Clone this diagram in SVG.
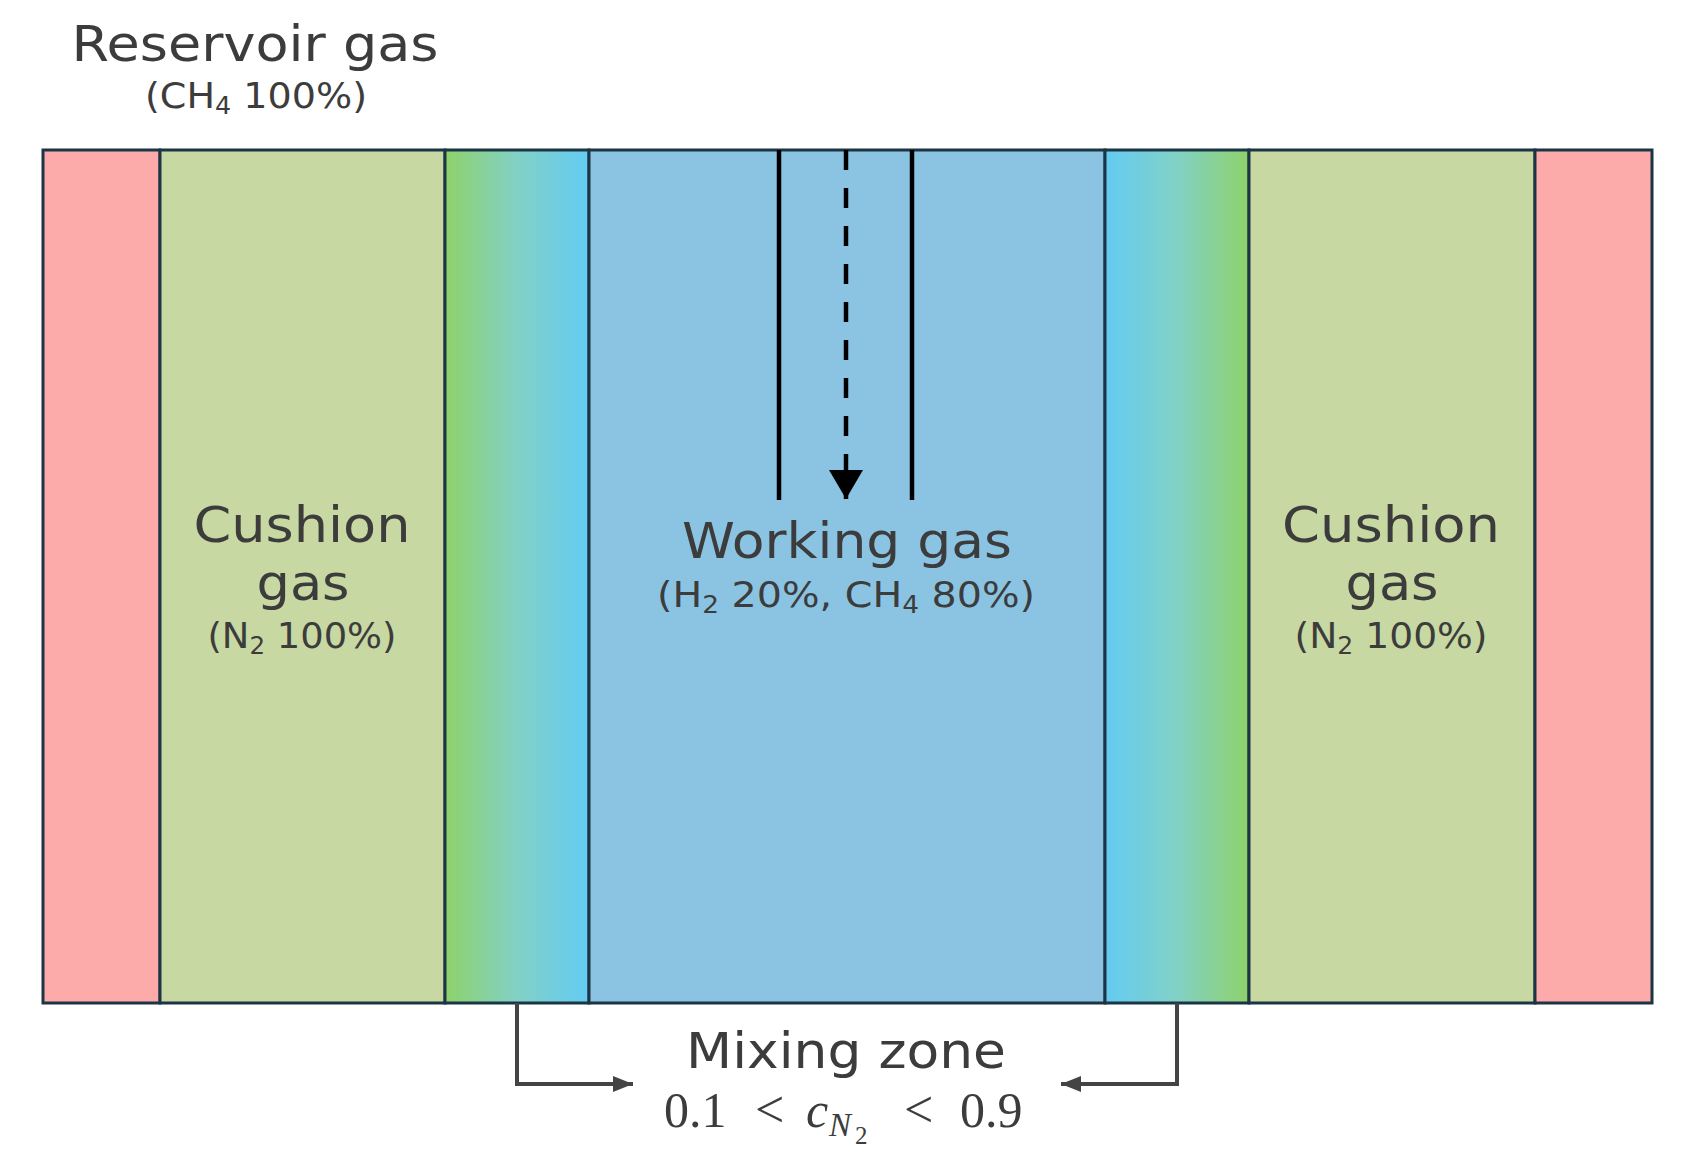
<svg xmlns="http://www.w3.org/2000/svg" width="1695" height="1171" viewBox="0 0 1695 1171">
<defs>
  <linearGradient id="mixL" x1="0" y1="0" x2="1" y2="0">
    <stop offset="0" stop-color="#8ed26a"/>
    <stop offset="0.5" stop-color="#82d1c6"/>
    <stop offset="1" stop-color="#63cbf3"/>
  </linearGradient>
  <linearGradient id="mixR" x1="0" y1="0" x2="1" y2="0">
    <stop offset="0" stop-color="#63cbf3"/>
    <stop offset="0.5" stop-color="#82d1c6"/>
    <stop offset="1" stop-color="#8ed26a"/>
  </linearGradient>
  <marker id="bracketHead" markerUnits="userSpaceOnUse" markerWidth="22" markerHeight="18" refX="20" refY="9" orient="auto">
    <path d="M0,1 L20,9 L0,17 Z" fill="#444444"/>
  </marker>
  <marker id="pipeHead" markerUnits="userSpaceOnUse" markerWidth="30" markerHeight="36" refX="29" refY="18" orient="auto">
    <path d="M0,1 L29,18 L0,35 Z" fill="#000000"/>
  </marker>
</defs>
<style>
  .zone{stroke:#1c3545;stroke-width:3}
  .lbl{font-family:"DejaVu Sans","Liberation Sans",sans-serif;fill:#3c3c3c;text-anchor:middle}
  .big{font-size:50px}
  .small{font-size:36px}
  .sub{font-size:24px}
  .bracket{fill:none;stroke:#444444;stroke-width:4;marker-end:url(#bracketHead)}
  .pipe{stroke:#000000;stroke-width:4.5;fill:none}
  .math{font-family:"Liberation Serif","DejaVu Serif",serif;fill:#3c3c3c;font-size:50px;text-anchor:start}
  .rel{font-size:52px}
</style>

<rect width="1695" height="1171" fill="#ffffff"/>

<g id="reservoir-label">
  <text class="lbl big" x="255" y="61" textLength="367" lengthAdjust="spacingAndGlyphs">Reservoir gas</text>
  <text class="lbl small" x="256" y="108" textLength="222" lengthAdjust="spacingAndGlyphs">(CH<tspan class="sub" dy="6">4</tspan><tspan dy="-6"> 100%)</tspan></text>
</g>

<g id="reservoir-left">
  <rect class="zone" x="43" y="150" width="117" height="853" fill="#fcaaaa"/>
</g>
<g id="cushion-left">
  <rect class="zone" x="160" y="150" width="285" height="853" fill="#c8d8a2"/>
  <text class="lbl big" x="302" y="542" textLength="217" lengthAdjust="spacingAndGlyphs">Cushion</text>
  <text class="lbl big" x="303" y="600" textLength="93" lengthAdjust="spacingAndGlyphs">gas</text>
  <text class="lbl small" x="302" y="648" textLength="189" lengthAdjust="spacingAndGlyphs">(N<tspan class="sub" dy="6">2</tspan><tspan dy="-6"> 100%)</tspan></text>
</g>
<g id="mixing-left">
  <rect class="zone" x="445" y="150" width="144" height="853" fill="url(#mixL)"/>
</g>
<g id="working-gas">
  <rect class="zone" x="589" y="150" width="516" height="853" fill="#8bc4e3"/>
  <text class="lbl big" x="847" y="558" textLength="330" lengthAdjust="spacingAndGlyphs">Working gas</text>
  <text class="lbl small" x="846" y="607" textLength="378" lengthAdjust="spacingAndGlyphs">(H<tspan class="sub" dy="6">2</tspan><tspan dy="-6"> 20%, CH</tspan><tspan class="sub" dy="6">4</tspan><tspan dy="-6"> 80%)</tspan></text>
</g>
<g id="mixing-right">
  <rect class="zone" x="1105" y="150" width="144" height="853" fill="url(#mixR)"/>
</g>
<g id="cushion-right">
  <rect class="zone" x="1249" y="150" width="286" height="853" fill="#c8d8a2"/>
  <text class="lbl big" x="1391" y="542" textLength="218" lengthAdjust="spacingAndGlyphs">Cushion</text>
  <text class="lbl big" x="1392" y="600" textLength="93" lengthAdjust="spacingAndGlyphs">gas</text>
  <text class="lbl small" x="1391" y="648" textLength="193" lengthAdjust="spacingAndGlyphs">(N<tspan class="sub" dy="6">2</tspan><tspan dy="-6"> 100%)</tspan></text>
</g>
<g id="reservoir-right">
  <rect class="zone" x="1535" y="150" width="117" height="853" fill="#fcaaaa"/>
</g>

<g id="well">
  <line class="pipe" x1="779" y1="150" x2="779" y2="500"/>
  <line class="pipe" x1="912" y1="150" x2="912" y2="500"/>
</g>

<g id="connectors">
  <path class="pipe" d="M846,150 L846,499" stroke-width="5.5" stroke-dasharray="20 18" marker-end="url(#pipeHead)"/>
  <path class="bracket" d="M517,1003 L517,1084 L633,1084"/>
  <path class="bracket" d="M1177,1003 L1177,1084 L1061,1084"/>
</g>

<g id="mixing-label">
  <text class="lbl big" x="846" y="1068" textLength="320" lengthAdjust="spacingAndGlyphs">Mixing zone</text>
  <text class="math" y="1127"><tspan x="664">0.1</tspan><tspan class="rel" x="755">&lt;</tspan><tspan x="806" font-style="italic">c</tspan><tspan x="829" font-style="italic" font-size="33" dy="9">N</tspan><tspan x="855" font-size="25" dy="8">2</tspan><tspan class="rel" x="904" dy="-17">&lt;</tspan><tspan x="960">0.9</tspan></text>
</g>
</svg>
